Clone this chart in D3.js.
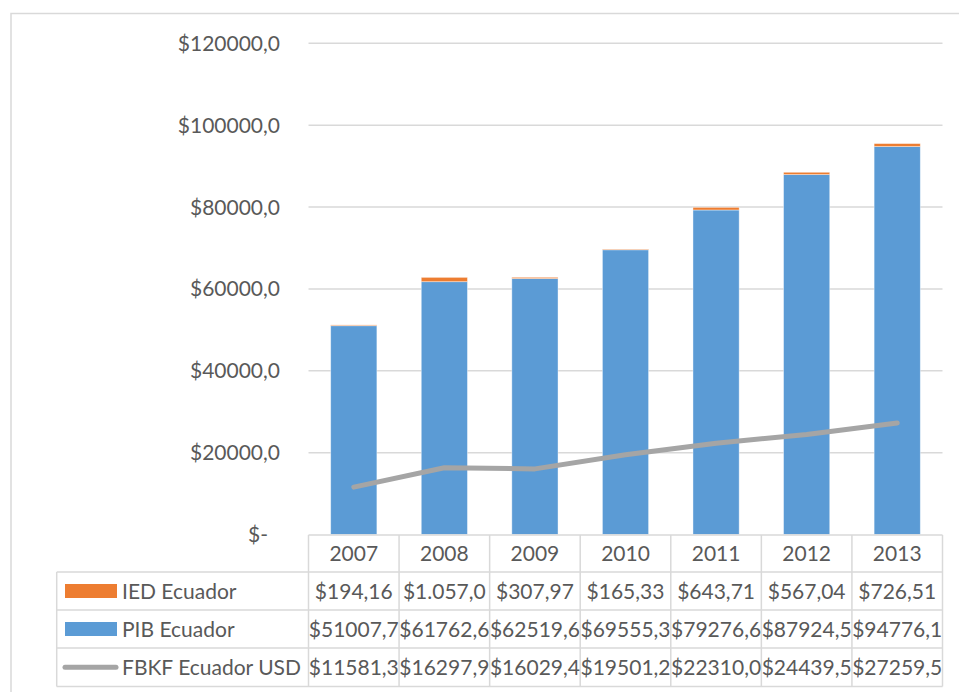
<!DOCTYPE html>
<html>
<head>
<meta charset="utf-8">
<script src="https://cdn.jsdelivr.net/npm/d3@7"></script>
<style>
  body { margin: 0; background: #fff; }
  text { font-family: Lato, "Open Sans", sans-serif; fill: #595959; }
</style>
</head>
<body>
<div id="chart-container"></div>
<script>
// Data

const years = ["2007", "2008", "2009", "2010", "2011", "2012", "2013"];
const ied = [194.16, 1057.0, 307.97, 165.33, 643.71, 567.04, 726.51];
const pib = [51007.7, 61762.6, 62519.6, 69555.3, 79276.6, 87924.5, 94776.1];
const fbkf = [11581.3, 16297.9, 16029.4, 19501.2, 22310.0, 24439.5, 27259.5];

// table cell labels as they appear (cut off like in the sheet)
const iedLabels = ["$194,16", "$1.057,0", "$307,97", "$165,33", "$643,71", "$567,04", "$726,51"];
const pibLabels = ["$51007,7", "$61762,6", "$62519,6", "$69555,3", "$79276,6", "$87924,5", "$94776,1"];
const fbkfLabels = ["$11581,3", "$16297,9", "$16029,4", "$19501,2", "$22310,0", "$24439,5", "$27259,5"];

const seriesNames = ["IED Ecuador", "PIB Ecuador", "FBKF Ecuador USD"];
const yTicks = [0, 20000, 40000, 60000, 80000, 100000, 120000];

const W = 959, H = 692;
const plot = { left: 308.5, right: 942.5, top: 43.3, bottom: 534.5 };
const legendLeft = 56.7;
const rowEdges = [535, 572, 610, 648, 686.5];

const colors = { ied: "#ed7d31", pib: "#5b9bd5", fbkf: "#a5a5a5", grid: "#d9d9d9" };

const svg = d3.select("#chart-container")
  .append("svg")
    .attr("width", W)
    .attr("height", H);

// outer chart frame (only top and left edges show)
svg.append("path")
  .attr("d", `M11,${H + 5} V13.5 H${W + 5}`)
  .attr("fill", "none")
  .attr("stroke", colors.grid)
  .attr("stroke-width", 1.5);

// scales

const x = d3.scaleBand()
  .domain(years)
  .range([plot.left, plot.right])
  .padding(0);

const y = d3.scaleLinear()
  .domain([0, 120000])
  .range([plot.bottom, plot.top]);

const barW = x.bandwidth() * 0.51;

// gridlines

svg.selectAll(".yGrid")
  .data(yTicks.slice(1))
  .join("line")
  .attr("class", "yGrid")
  .attr("x1", plot.left)
  .attr("x2", plot.right)
  .attr("y1", d => y(d))
  .attr("y2", d => y(d))
  .attr("stroke", colors.grid)
  .attr("stroke-width", 1.5);

// y axis labels

svg.selectAll(".yLabel")
  .data(yTicks)
  .join("text")
  .attr("class", "yLabel")
  .attr("x", d => d === 0 ? 268 : 280)
  .attr("y", d => y(d))
  .attr("dy", "0.36em")
  .attr("text-anchor", "end")
  .style("font-size", "21px")
  .text(d => d === 0 ? "$-" : "$" + d + ",0");

// stacked bars

const rows = years.map((yr, i) => ({ year: yr, pib: pib[i], ied: ied[i] }));
const stack = d3.stack().keys(["pib", "ied"]);
const stacked = stack(rows);

svg.selectAll(".layer")
  .data(stacked)
  .join("g")
  .attr("class", "layer")
  .attr("fill", d => colors[d.key])
  .selectAll("rect")
  .data(d => d)
  .join("rect")
  .attr("x", d => x(d.data.year) + (x.bandwidth() - barW) / 2)
  .attr("width", barW)
  .attr("y", d => y(d[1]))
  .attr("height", d => y(d[0]) - y(d[1]))
  .attr("stroke", "#fff")
  .attr("stroke-opacity", 0.5)
  .attr("stroke-width", 0.8);

// FBKF line

const line = d3.line()
  .x((d, i) => x(years[i]) + x.bandwidth() / 2)
  .y(d => y(d));

svg.append("path")
  .datum(fbkf)
  .attr("fill", "none")
  .attr("stroke", colors.fbkf)
  .attr("stroke-width", 5)
  .attr("stroke-linecap", "round")
  .attr("stroke-linejoin", "round")
  .attr("d", line);

// data table

const table = svg.append("g").attr("stroke", colors.grid).attr("stroke-width", 1.5);

// horizontal rules
rowEdges.forEach((ry, i) => {
  table.append("line")
    .attr("x1", i === 0 ? plot.left : legendLeft)
    .attr("x2", plot.right)
    .attr("y1", ry)
    .attr("y2", ry);
});

// vertical rules
table.append("line")
  .attr("x1", legendLeft).attr("x2", legendLeft)
  .attr("y1", rowEdges[1]).attr("y2", rowEdges[4]);

svg.select("g").raise;
table.selectAll(".vRule")
  .data(years.map(d => x(d)).concat([plot.right]))
  .join("line")
  .attr("class", "vRule")
  .attr("x1", d => d).attr("x2", d => d)
  .attr("y1", rowEdges[0]).attr("y2", rowEdges[4]);

// header years
svg.selectAll(".yearLabel")
  .data(years)
  .join("text")
  .attr("class", "yearLabel")
  .attr("x", d => x(d) + x.bandwidth() / 2)
  .attr("y", (rowEdges[0] + rowEdges[1]) / 2)
  .attr("dy", "0.36em")
  .attr("text-anchor", "middle")
  .style("font-size", "21px")
  .text(d => d);

// value rows
const tableRows = [iedLabels, pibLabels, fbkfLabels];
tableRows.forEach((labels, r) => {
  const cy = (rowEdges[r + 1] + rowEdges[r + 2]) / 2;
  svg.selectAll(".val" + r)
    .data(labels)
    .join("text")
    .attr("class", "val" + r)
    .attr("x", (d, i) => x(years[i]) + x.bandwidth() / 2)
    .attr("y", cy)
    .attr("dy", "0.36em")
    .attr("text-anchor", "middle")
    .style("font-size", "21px")
    .text(d => d);
});

// legend keys in the table
seriesNames.forEach((name, r) => {
  const cy = (rowEdges[r + 1] + rowEdges[r + 2]) / 2;
  if (r < 2) {
    svg.append("rect")
      .attr("x", 65)
      .attr("y", cy - 7)
      .attr("width", 52)
      .attr("height", 14)
      .attr("fill", r === 0 ? colors.ied : colors.pib);
  } else {
    svg.append("line")
      .attr("x1", 65).attr("x2", 116)
      .attr("y1", cy).attr("y2", cy)
      .attr("stroke", colors.fbkf)
      .attr("stroke-width", 5)
      .attr("stroke-linecap", "round");
  }
  svg.append("text")
    .attr("x", 122)
    .attr("y", cy)
    .attr("dy", "0.36em")
    .style("font-size", "21px")
    .text(name);
});
</script>
</body>
</html>
